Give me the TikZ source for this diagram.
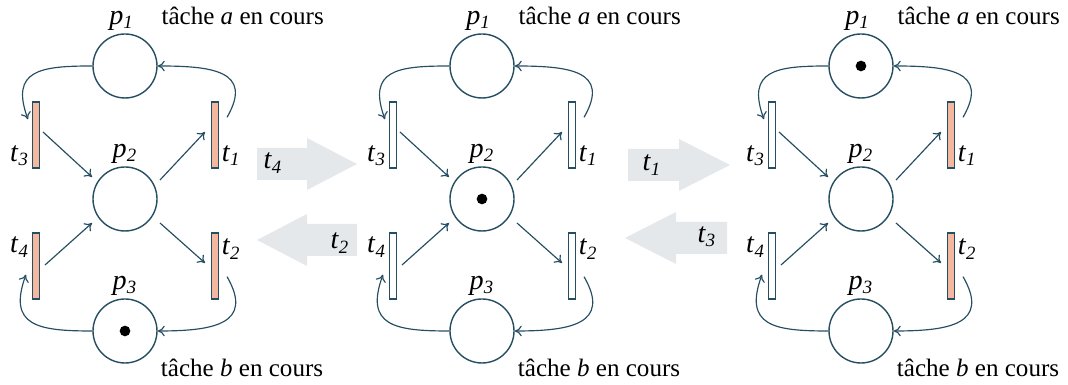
\documentclass[tikz,border=0pt]{standalone}
\usepackage{fontspec}
\setmainfont{Liberation Serif}
\usetikzlibrary{positioning, calc, arrows.meta}

\definecolor{netcol}{RGB}{38,78,98}
\definecolor{salm}{RGB}{244,184,160}
\definecolor{movegray}{RGB}{229,232,235}

\newcommand{\pn}[2]{\textit{#1}\textsubscript{\textit{#2}}}

\begin{document}
\begin{tikzpicture}[x=0.015cm, y=0.015cm,
    % Define the styles of the net
    place/.style={circle, draw=netcol, line width=0.6pt, minimum size=0.96cm, inner sep=0pt},
    trans/.style={rectangle, draw=netcol, line width=0.6pt, minimum width=0.1cm, minimum height=0.99cm, inner sep=0pt},
    token/.style={circle, fill=black, minimum size=0.16cm, inner sep=0pt},
    arc/.style={draw=netcol, line width=0.5pt, -{To[length=3pt,width=4.5pt]}},
    lab/.style={font=\fontsize{12}{14}\selectfont, inner sep=1pt},
    txt/.style={font=\fontsize{10.7}{12}\selectfont, inner sep=1pt}
]
\useasboundingbox (0,0) rectangle (1068,385);

% Draw the gray arrows between the nets
\foreach \xa/\xb/\yc in {257/357/221, 357/257/145, 628/730/220, 727/625/147}{
    \pgfmathsetmacro{\xm}{(\xa+\xb)/2}
    \fill[movegray] (\xa,\yc+16) -- (\xm,\yc+16) -- (\xm,\yc+26) -- (\xb,\yc)
        -- (\xm,\yc-26) -- (\xm,\yc-16) -- (\xa,\yc-16) -- cycle;
}
\node[lab] (f4) at (273,222) {\pn{t}{4}};
\node[lab] (f2) at (340,142) {\pn{t}{2}};
\node[lab] (f1) at (652,220) {\pn{t}{1}};
\node[lab] (f3) at (707,148) {\pn{t}{3}};

% Draw the three nets
\foreach \n/\dx/\tok/\fa/\fb in {L/0/p3/salm/salm, M/357/p2/white/white, R/736/p1/white/salm}{
    % places and transitions
    \node[place] (\n-p1) at (125+\dx,319) {};
    \node[place] (\n-p2) at (125+\dx,186) {};
    \node[place] (\n-p3) at (125+\dx,54) {};
    \node[trans, fill=\fa] (\n-t3) at (36+\dx,250) {};
    \node[trans, fill=\fb] (\n-t1) at (215+\dx,250) {};
    \node[trans, fill=\fa] (\n-t4) at (36+\dx,119) {};
    \node[trans, fill=\fb] (\n-t2) at (215+\dx,119) {};
    \node[token] (\n-tok) at (\n-\tok) {};

    % labels
    \node[lab, above=0pt of \n-p1, xshift=-0.05cm] (\n-np1) {\pn{p}{1}};
    \node[txt, right=0.33cm of \n-np1.base east, anchor=base west] (\n-ta) {tâche \textit{a} en cours};
    \node[lab, above=0pt of \n-p2] (\n-np2) {\pn{p}{2}};
    \node[lab, above=0pt of \n-p3] (\n-np3) {\pn{p}{3}};
    \node[txt, anchor=west] (\n-tb) at ($(\n-p3.south east)+(10,-14)$) {tâche \textit{b} en cours};
    \node[lab, anchor=south east] (\n-nt3) at (\n-t3.south west) {\pn{t}{3}};
    \node[lab, anchor=south west] (\n-nt1) at (\n-t1.south east) {\pn{t}{1}};
    \node[lab, anchor=north east] (\n-nt4) at ($(\n-t4.north west)+(0,-2)$) {\pn{t}{4}};
    \node[lab, anchor=north west] (\n-nt2) at ($(\n-t2.north east)+(0,-4)$) {\pn{t}{2}};

    % arcs
    \draw[arc] ($(\n-t3)+(7,3)$) -- ($(\n-p2)+(-33,22)$);
    \draw[arc] ($(\n-p2)+(35,19)$) -- ($(\n-t1)+(-10,3)$);
    \draw[arc] ($(\n-t4)+(9,1)$) -- ($(\n-p2)+(-33,-24)$);
    \draw[arc] ($(\n-p2)+(35,-24)$) -- ($(\n-t2)+(-10,3)$);
    \draw[arc] (\n-p1.west) to[out=180, in=110, looseness=1.6] ($(\n-t3.north west)+(-4,-18)$);
    \draw[arc] ($(\n-t1.north east)+(8,-16)$) to[out=60, in=0, looseness=1.6] (\n-p1.east);
    \draw[arc] ($(\n-t2.south east)+(8,23)$) to[out=-60, in=0, looseness=1.6] (\n-p3.east);
    \draw[arc] (\n-p3.west) to[out=180, in=-110, looseness=1.6] ($(\n-t4.south west)+(-6,25)$);
}

\end{tikzpicture}
\end{document}
